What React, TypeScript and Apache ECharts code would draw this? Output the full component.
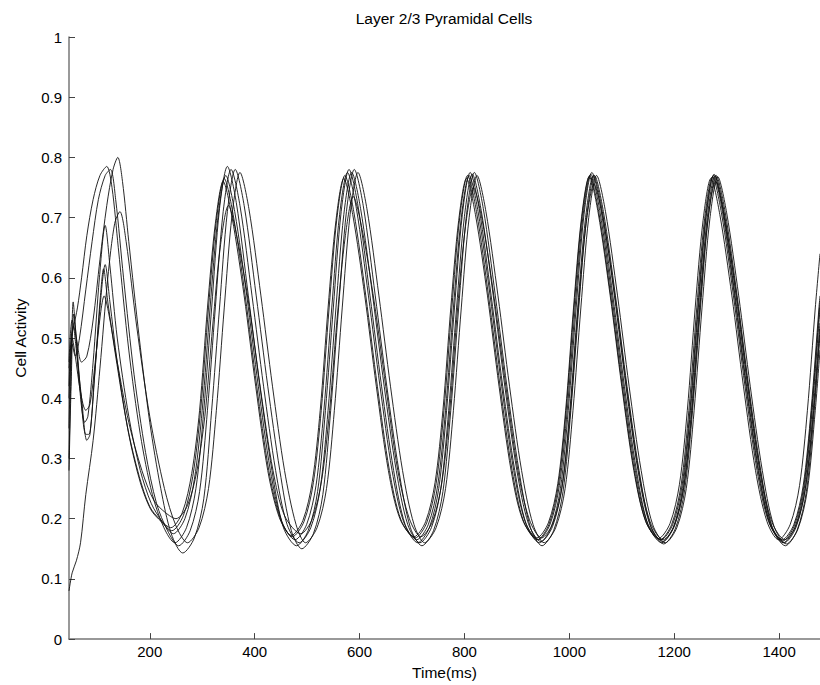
import React, { useEffect, useRef } from "react";
import * as echarts from "echarts";

const chartTitle = "Layer 2/3 Pyramidal Cells";
const xName = "Time(ms)";
const yName = "Cell Activity";
const xTicks = [200, 400, 600, 800, 1000, 1200, 1400];
const xMin = 46;
const xMax = 1478;

const cellA: number[][] = [
  [46,0.46],[52,0.53],[60,0.5],[70,0.46],[80,0.47],[92,0.53],[105,0.63],[118,0.72],[130,0.78],[139,0.8],[148,0.76],[160,0.66],[180,0.5],[200,0.36],[221,0.25],[241,0.175],
  [263,0.143],[285,0.168],[303,0.233],[318,0.38],[333,0.55],[348,0.71],[363,0.78],[380,0.72],[403,0.57],[425,0.42],[448,0.28],[470,0.18],
  [490,0.15],[512,0.175],[530,0.24],[545,0.38],[560,0.55],[575,0.71],[590,0.78],[607,0.72],[630,0.57],[652,0.42],[675,0.28],[697,0.185],
  [719,0.155],[741,0.18],[759,0.245],[774,0.38],[789,0.55],[804,0.705],[819,0.775],[836,0.715],[859,0.57],[881,0.42],[904,0.28],[926,0.185],
  [948,0.155],[970,0.18],[988,0.245],[1003,0.38],[1018,0.55],[1033,0.7],[1048,0.77],[1065,0.71],[1088,0.57],[1110,0.42],[1133,0.28],[1155,0.188],
  [1180,0.158],[1202,0.183],[1220,0.248],[1235,0.38],[1250,0.55],[1265,0.7],[1280,0.77],[1297,0.71],[1320,0.57],[1342,0.42],[1365,0.28],[1387,0.185],
  [1412,0.155],[1434,0.18],[1452,0.245],[1467,0.38],[1478,0.505]
];

const cellB: number[][] = [
  [46,0.08],[52,0.11],[60,0.13],[68,0.16],[78,0.24],[92,0.33],[105,0.45],[120,0.6],[133,0.69],[143,0.71],[155,0.66],[175,0.52],[200,0.37],[228,0.25],[250,0.188],
  [272,0.16],[294,0.185],[312,0.25],[327,0.38],[342,0.55],[357,0.705],[372,0.775],[389,0.715],[412,0.57],[434,0.42],[457,0.28],[479,0.19],
  [497,0.16],[519,0.185],[537,0.25],[552,0.38],[567,0.55],[582,0.705],[597,0.775],[614,0.715],[637,0.57],[659,0.42],[682,0.28],[704,0.19],
  [724,0.16],[746,0.185],[764,0.25],[779,0.38],[794,0.55],[809,0.7],[824,0.77],[841,0.71],[864,0.57],[886,0.42],[909,0.28],[931,0.19],
  [952,0.16],[974,0.185],[992,0.25],[1007,0.38],[1022,0.55],[1037,0.7],[1052,0.77],[1069,0.71],[1092,0.57],[1114,0.42],[1137,0.28],[1159,0.19],
  [1183,0.16],[1205,0.185],[1223,0.25],[1238,0.38],[1253,0.55],[1268,0.698],[1283,0.768],[1300,0.708],[1323,0.57],[1345,0.42],[1368,0.28],[1390,0.188],
  [1414,0.158],[1436,0.183],[1454,0.248],[1469,0.38],[1478,0.48]
];

const cellC: number[][] = [
  [46,0.42],[50,0.5],[55,0.52],[62,0.55],[70,0.6],[80,0.67],[92,0.73],[105,0.77],[118,0.785],[128,0.75],[140,0.65],[160,0.48],[182,0.34],[205,0.24],[227,0.185],
  [248,0.16],[270,0.185],[288,0.25],[303,0.38],[318,0.55],[333,0.715],[348,0.785],[365,0.725],[388,0.57],[410,0.42],[433,0.28],[455,0.185],
  [480,0.155],[502,0.18],[520,0.245],[535,0.38],[550,0.55],[565,0.71],[580,0.78],[597,0.72],[620,0.57],[642,0.42],[665,0.28],[687,0.19],
  [711,0.16],[733,0.185],[751,0.25],[766,0.38],[781,0.55],[796,0.705],[811,0.775],[828,0.715],[851,0.57],[873,0.42],[896,0.28],[918,0.19],
  [943,0.16],[965,0.185],[983,0.25],[998,0.38],[1013,0.55],[1028,0.705],[1043,0.775],[1060,0.715],[1083,0.57],[1105,0.42],[1128,0.28],[1150,0.19],
  [1176,0.16],[1198,0.185],[1216,0.25],[1231,0.38],[1246,0.55],[1261,0.702],[1276,0.772],[1293,0.712],[1316,0.57],[1338,0.42],[1361,0.28],[1383,0.19],
  [1408,0.16],[1430,0.185],[1448,0.25],[1463,0.38],[1478,0.55]
];

const cellD: number[][] = [
  [46,0.4],[52,0.49],[58,0.47],[66,0.5],[78,0.58],[90,0.66],[102,0.73],[115,0.77],[125,0.78],[135,0.73],[150,0.6],[170,0.44],[192,0.31],[213,0.225],[234,0.18],
  [255,0.155],[277,0.18],[295,0.245],[310,0.38],[325,0.55],[340,0.71],[355,0.78],[372,0.72],[395,0.57],[417,0.42],[440,0.28],[462,0.19],
  [485,0.16],[507,0.185],[525,0.25],[540,0.38],[555,0.55],[570,0.705],[585,0.775],[602,0.715],[625,0.57],[647,0.42],[670,0.28],[692,0.19],
  [715,0.16],[737,0.185],[755,0.25],[770,0.38],[785,0.55],[800,0.702],[815,0.772],[832,0.712],[855,0.57],[877,0.42],[900,0.28],[922,0.192],
  [946,0.162],[968,0.187],[986,0.252],[1001,0.38],[1016,0.55],[1031,0.7],[1046,0.77],[1063,0.71],[1086,0.57],[1108,0.42],[1131,0.28],[1153,0.192],
  [1178,0.162],[1200,0.187],[1218,0.252],[1233,0.38],[1248,0.55],[1263,0.7],[1278,0.77],[1295,0.71],[1318,0.57],[1340,0.42],[1363,0.28],[1385,0.19],
  [1410,0.16],[1432,0.185],[1450,0.25],[1465,0.38],[1478,0.525]
];

const cellE: number[][] = [
  [46,0.3],[50,0.45],[54,0.56],[58,0.52],[66,0.42],[76,0.36],[82,0.37],[92,0.46],[104,0.6],[115,0.687],[124,0.62],[138,0.5],[160,0.37],[182,0.28],[203,0.225],[224,0.195],
  [245,0.175],[267,0.2],[285,0.265],[300,0.38],[315,0.55],[330,0.7],[345,0.77],[362,0.71],[385,0.57],[407,0.42],[430,0.28],[452,0.195],
  [477,0.165],[499,0.19],[517,0.255],[532,0.38],[547,0.55],[562,0.705],[577,0.775],[594,0.715],[617,0.57],[639,0.42],[662,0.28],[684,0.195],
  [709,0.165],[731,0.19],[749,0.255],[764,0.38],[779,0.55],[794,0.7],[809,0.77],[826,0.71],[849,0.57],[871,0.42],[894,0.28],[916,0.195],
  [941,0.165],[963,0.19],[981,0.255],[996,0.38],[1011,0.55],[1026,0.702],[1041,0.772],[1058,0.712],[1081,0.57],[1103,0.42],[1126,0.28],[1148,0.195],
  [1175,0.165],[1197,0.19],[1215,0.255],[1230,0.38],[1245,0.55],[1260,0.7],[1275,0.77],[1292,0.71],[1315,0.57],[1337,0.42],[1360,0.28],[1382,0.193],
  [1407,0.163],[1429,0.188],[1447,0.253],[1462,0.38],[1477,0.55],[1478,0.56]
];

const cellF: number[][] = [
  [46,0.28],[50,0.42],[55,0.54],[60,0.5],[68,0.41],[78,0.34],[84,0.34],[94,0.43],[105,0.55],[115,0.622],[124,0.56],[138,0.46],[160,0.34],[182,0.26],[202,0.215],[222,0.195],
  [242,0.18],[264,0.205],[282,0.27],[297,0.38],[312,0.55],[327,0.695],[342,0.765],[359,0.705],[382,0.57],[404,0.42],[427,0.28],[449,0.2],
  [472,0.17],[494,0.195],[512,0.26],[527,0.38],[542,0.55],[557,0.7],[572,0.77],[589,0.71],[612,0.57],[634,0.42],[657,0.28],[679,0.198],
  [706,0.168],[728,0.193],[746,0.258],[761,0.38],[776,0.55],[791,0.7],[806,0.77],[823,0.71],[846,0.57],[868,0.42],[891,0.28],[913,0.195],
  [939,0.165],[961,0.19],[979,0.255],[994,0.38],[1009,0.55],[1024,0.7],[1039,0.77],[1056,0.71],[1079,0.57],[1101,0.42],[1124,0.28],[1146,0.195],
  [1173,0.165],[1195,0.19],[1213,0.255],[1228,0.38],[1243,0.55],[1258,0.698],[1273,0.768],[1290,0.708],[1313,0.57],[1335,0.42],[1358,0.28],[1380,0.195],
  [1406,0.165],[1428,0.19],[1446,0.255],[1461,0.38],[1476,0.55],[1478,0.57]
];

const cellG: number[][] = [
  [46,0.35],[50,0.48],[54,0.52],[60,0.48],[70,0.4],[80,0.33],[86,0.34],[96,0.45],[105,0.56],[112,0.615],[120,0.56],[135,0.47],[158,0.35],[180,0.27],[200,0.22],[220,0.198],
  [240,0.185],[262,0.21],[280,0.275],[295,0.38],[310,0.55],[325,0.69],[340,0.76],[357,0.7],[380,0.57],[402,0.42],[425,0.28],[447,0.202],
  [470,0.172],[492,0.197],[510,0.262],[525,0.38],[540,0.55],[555,0.695],[570,0.765],[587,0.705],[610,0.57],[632,0.42],[655,0.28],[677,0.2],
  [704,0.17],[726,0.195],[744,0.26],[759,0.38],[774,0.55],[789,0.695],[804,0.765],[821,0.705],[844,0.57],[866,0.42],[889,0.28],[911,0.198],
  [938,0.168],[960,0.193],[978,0.258],[993,0.38],[1008,0.55],[1023,0.698],[1038,0.768],[1055,0.708],[1078,0.57],[1100,0.42],[1123,0.28],[1145,0.197],
  [1170,0.167],[1192,0.192],[1210,0.257],[1225,0.38],[1240,0.55],[1255,0.695],[1270,0.765],[1287,0.705],[1310,0.57],[1332,0.42],[1355,0.28],[1377,0.195],
  [1399,0.165],[1421,0.19],[1439,0.255],[1454,0.38],[1469,0.55],[1478,0.64]
];

const cellH: number[][] = [
  [46,0.45],[52,0.5],[58,0.47],[68,0.41],[78,0.38],[86,0.39],[96,0.46],[106,0.54],[113,0.57],[122,0.54],[138,0.46],[160,0.36],[185,0.28],[208,0.23],[230,0.21],
  [250,0.2],[272,0.222],[290,0.28],[305,0.37],[320,0.52],[335,0.655],[350,0.72],[367,0.665],[390,0.55],[412,0.41],[435,0.28],[457,0.205],
  [488,0.175],[510,0.2],[528,0.265],[543,0.38],[558,0.54],[573,0.67],[588,0.735],[605,0.68],[628,0.56],[650,0.42],[673,0.28],[695,0.2],
  [717,0.17],[739,0.195],[757,0.26],[772,0.38],[787,0.55],[802,0.685],[817,0.75],[834,0.695],[857,0.565],[879,0.42],[902,0.28],[924,0.198],
  [947,0.168],[969,0.193],[987,0.258],[1002,0.38],[1017,0.55],[1032,0.69],[1047,0.755],[1064,0.7],[1087,0.57],[1109,0.42],[1132,0.28],[1154,0.195],
  [1179,0.165],[1201,0.19],[1219,0.255],[1234,0.38],[1249,0.55],[1264,0.695],[1279,0.76],[1296,0.7],[1319,0.57],[1341,0.42],[1364,0.28],[1386,0.195],
  [1411,0.165],[1433,0.19],[1451,0.255],[1466,0.38],[1478,0.515]
];

const cells = [cellA, cellB, cellC, cellD, cellE, cellF, cellG, cellH];

export default function App() {
  const ref = useRef<HTMLDivElement>(null);
  useEffect(() => {
    if (!ref.current) return;
    const chart = echarts.init(ref.current, undefined, { renderer: "svg" });
    const font = "'Liberation Sans', Arial, sans-serif";
    chart.setOption({
      animation: false,
      backgroundColor: "#ffffff",
      grid: { left: 69, right: 0, top: 37, bottom: 45 },
      graphic: [
        {
          type: "text",
          x: 444,
          y: 18,
          style: {
            text: chartTitle,
            fontFamily: font,
            fontSize: 15.5,
            fill: "#000",
            textAlign: "center",
            textVerticalAlign: "middle",
          },
        },
      ],
      xAxis: {
        type: "value",
        min: xMin,
        max: xMax,
        name: xName,
        nameLocation: "middle",
        nameGap: 21,
        nameTextStyle: { fontFamily: font, fontSize: 15.5, color: "#000" },
        splitLine: { show: false },
        axisLine: { show: true, lineStyle: { color: "#777", width: 1.5 } },
        axisTick: {
          show: true,
          inside: true,
          length: 6,
          customValues: xTicks,
          lineStyle: { color: "#444", width: 1 },
        },
        axisLabel: {
          customValues: xTicks,
          fontFamily: font,
          fontSize: 15,
          color: "#000",
          margin: 5,
          formatter: (v: number) => String(v),
        },
      },
      yAxis: {
        type: "value",
        min: 0,
        max: 1,
        interval: 0.1,
        name: yName,
        nameLocation: "middle",
        nameGap: 41,
        nameTextStyle: { fontFamily: font, fontSize: 15.5, color: "#000" },
        splitLine: { show: false },
        axisLine: { show: true, lineStyle: { color: "#777", width: 1.5 } },
        axisTick: { show: true, inside: true, length: 6, lineStyle: { color: "#444", width: 1 } },
        axisLabel: {
          fontFamily: font,
          fontSize: 15,
          color: "#000",
          margin: 7,
          formatter: (v: number) => String(Math.round(v * 10) / 10),
        },
      },
      series: cells.map((d, i) => ({
        type: "line",
        name: "cell" + i,
        data: d,
        showSymbol: false,
        smooth: 0.3,
        lineStyle: { color: "#111", width: 0.9 },
      })),
    });
    return () => chart.dispose();
  }, []);
  return (
    <div
      ref={ref}
      style={{ position: "fixed", left: 0, top: 0, width: 820, height: 685, background: "#fff" }}
    />
  );
}
